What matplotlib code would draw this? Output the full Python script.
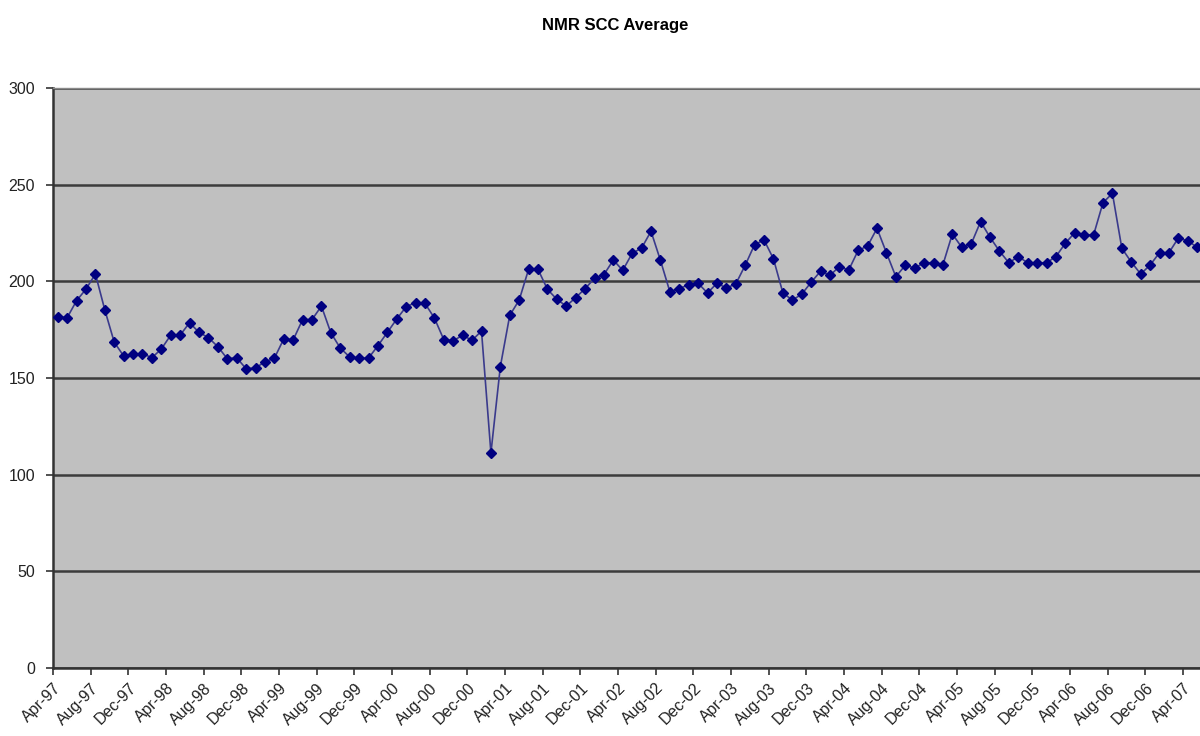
import numpy as np
import matplotlib
matplotlib.use("Agg")
import matplotlib.pyplot as plt

# -----------------------
# DATA (monthly, Apr-97 .. May-07)
# -----------------------
start_year = 1997
start_month = 4

scc = [
    181.7, 181.2, 190.0, 196.0, 203.8, 185.2, 168.5, 161.4, 162.3, 162.6,
    160.5, 165.0, 172.2, 172.2, 178.6, 173.6, 170.9, 166.2, 160.0, 160.5,
    154.8, 155.2, 158.4, 160.2, 170.2, 169.7, 180.2, 180.2, 187.2, 173.4,
    165.5, 160.9, 160.2, 160.3, 166.7, 173.6, 180.5, 186.9, 189.0, 188.6,
    181.0, 169.8, 169.3, 172.1, 169.5, 174.3, 111.2, 155.9, 182.4, 190.3,
    206.2, 206.2, 195.9, 190.7, 187.2, 191.6, 196.2, 201.6, 203.5, 211.0,
    205.7, 214.5, 217.2, 225.9, 210.9, 194.7, 196.2, 198.3, 199.0, 194.0,
    199.0, 196.6, 198.6, 208.3, 219.0, 221.4, 211.7, 194.1, 190.3, 193.3,
    199.5, 205.2, 203.1, 207.6, 205.9, 216.0, 218.3, 227.4, 214.8, 202.4,
    208.3, 206.9, 209.6, 209.6, 208.6, 224.5, 217.6, 219.3, 230.9, 222.8,
    215.7, 209.6, 212.8, 209.6, 209.6, 209.6, 212.8, 219.7, 225.2, 224.0,
    224.0, 240.7, 245.5, 217.1, 210.0, 203.8, 208.4, 214.8, 214.8, 222.4,
    221.0, 217.6,
]

month_names = ["Jan", "Feb", "Mar", "Apr", "May", "Jun",
               "Jul", "Aug", "Sep", "Oct", "Nov", "Dec"]

# month labels for every point
labels = []
for i in range(len(scc)):
    m = (start_month - 1 + i) % 12
    y = (start_year + (start_month - 1 + i) // 12) % 100
    labels.append(f"{month_names[m]}-{y:02d}")

x = np.arange(len(scc))

# -----------------------
# PLOT
# -----------------------
plt.rcParams["font.family"] = ["Liberation Sans", "DejaVu Sans"]

fig = plt.figure(figsize=(12, 7.36), dpi=100)
ax = fig.add_axes([0.0442, 0.0924, 0.9558, 0.788])

ax.set_facecolor("#c0c0c0")
ax.plot(x, scc, color="#3a3a8c", linewidth=1.2,
        marker="D", markersize=5, markerfacecolor="#000080",
        markeredgecolor="#000080", zorder=3)

# axes ranges
ax.set_xlim(-0.5, 121.3)
ax.set_ylim(0, 300)

# category axis: ticks between months, a label every 4 months
tick_pos = np.arange(-0.5, len(scc), 4)
ax.set_xticks(tick_pos)
ax.set_xticklabels(labels[::4], rotation=45, ha="right",
                   rotation_mode="anchor", fontsize=11.5)

ax.set_yticks(np.arange(0, 301, 50))
ax.tick_params(axis="y", labelsize=11.5, length=5, width=1.2,
               pad=8, color="#333333", labelcolor="#222222")
ax.tick_params(axis="x", length=5, width=1.2, pad=4, color="#333333",
               labelcolor="#222222")

# grid
ax.grid(axis="y", color="#3c3c3c", linewidth=1.8)
ax.grid(axis="x", visible=False)
ax.set_axisbelow(True)

for side in ["left", "bottom"]:
    ax.spines[side].set_color("#333333")
    ax.spines[side].set_linewidth(1.8)
ax.spines["top"].set_color("#8a8a8a")
ax.spines["top"].set_linewidth(1.0)
ax.spines["right"].set_visible(False)

fig.text(0.5125, 0.966, "NMR SCC Average", ha="center", va="center",
         fontsize=12, fontweight="bold")

fig.savefig("out.png", dpi=100)
